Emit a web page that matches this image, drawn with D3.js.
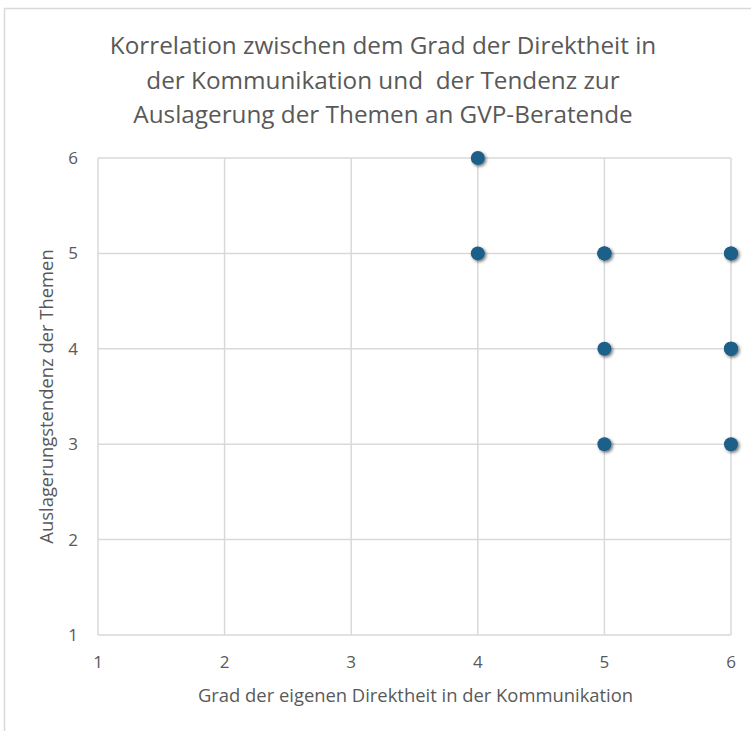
<!DOCTYPE html>
<html><head><meta charset="utf-8">
<script src="https://cdn.jsdelivr.net/npm/d3@7"></script>
<style>
html,body{margin:0;padding:0;background:#fff;}
svg text{font-family:"Open Sans",sans-serif;}
</style></head>
<body>
<svg id="c" width="751" height="731"></svg>
<script>
const titleLines = ["Korrelation zwischen dem Grad der Direktheit in","der Kommunikation und  der Tendenz zur","Auslagerung der Themen an GVP-Beratende"];
const xTitle = "Grad der eigenen Direktheit in der Kommunikation";
const yTitle = "Auslagerungstendenz der Themen";
const xTicks = [1,2,3,4,5,6];
const yTicks = [1,2,3,4,5,6];
const xValues = [4,4,5,5,5,6,6,5,6,6,6,5,6];
const yValues = [6,5,5,5,5,5,5,4,4,4,4,3,3];

const svg = d3.select("#c");
const W = 751, H = 731;
const m = {left:98, right:20, top:158, bottom:96};
const x = d3.scaleLinear().domain([1,6]).range([m.left, W-m.right]);
const y = d3.scaleLinear().domain([1,6]).range([H-m.bottom, m.top]);

// outer border (top & left)
svg.append("path").attr("d", `M4.5,${H} L4.5,8.5 L${W},8.5`).attr("fill","none").attr("stroke","#d9d9d9").attr("stroke-width",1.5);

const defs = svg.append("defs");
const f = defs.append("filter").attr("id","sh").attr("x","-50%").attr("y","-50%").attr("width","200%").attr("height","200%");
f.append("feDropShadow").attr("dx",1.5).attr("dy",1.5).attr("stdDeviation",1.6).attr("flood-color","#000").attr("flood-opacity",0.55);

// title
const t = svg.append("text").attr("text-anchor","middle").attr("fill","#595959").attr("font-size",24.3);
titleLines.forEach((s,i)=>t.append("tspan").attr("x",383).attr("y",54+i*34.5).style("white-space","pre").text(s));

// grid
svg.append("g").selectAll("line").data(xTicks).join("line")
  .attr("x1",d=>x(d)).attr("x2",d=>x(d)).attr("y1",y(6)).attr("y2",y(1))
  .attr("stroke","#d9d9d9").attr("stroke-width",1.5);
svg.append("g").selectAll("line").data(yTicks).join("line")
  .attr("y1",d=>y(d)).attr("y2",d=>y(d)).attr("x1",x(1)).attr("x2",x(6))
  .attr("stroke","#d9d9d9").attr("stroke-width",1.5);

// tick labels
svg.append("g").selectAll("text").data(xTicks).join("text")
  .attr("x",d=>x(d)).attr("y",y(1)+33).attr("text-anchor","middle")
  .attr("fill","#595959").attr("font-size",17).text(d=>d);
svg.append("g").selectAll("text").data(yTicks).join("text")
  .attr("x",x(1)-20).attr("y",d=>y(d)+6).attr("text-anchor","end")
  .attr("fill","#595959").attr("font-size",17).text(d=>d);

// axis titles
svg.append("text").attr("x",(x(1)+x(6))/2+1).attr("y",702).attr("text-anchor","middle").attr("fill","#595959").attr("font-size",18.4).text(xTitle);
svg.append("text").attr("transform",`translate(53,${(y(1)+y(6))/2}) rotate(-90)`).attr("text-anchor","middle").attr("fill","#595959").attr("font-size",18.4).text(yTitle);

// points
const pts = xValues.map((v,i)=>({x:v,y:yValues[i]}));
svg.append("g").attr("filter","url(#sh)").selectAll("circle").data(pts).join("circle")
  .attr("cx",d=>x(d.x)).attr("cy",d=>y(d.y)).attr("r",7).attr("fill","#1c5f89");
</script>
</body></html>
